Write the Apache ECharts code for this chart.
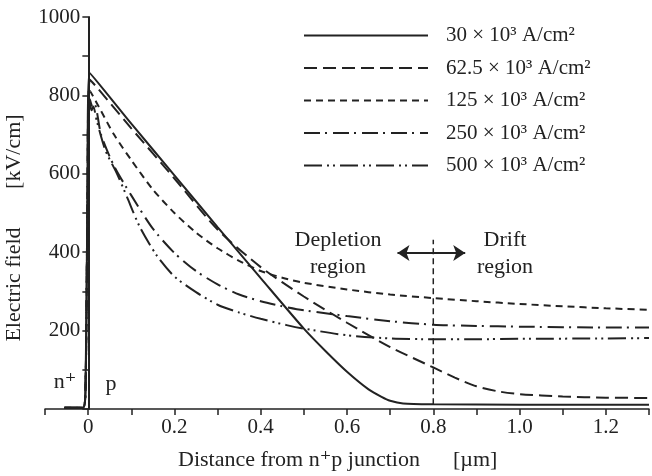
<!DOCTYPE html>
<html>
<head>
<meta charset="utf-8">
<script src="https://cdn.jsdelivr.net/npm/echarts@6/dist/echarts.min.js"></script>
<style>
  html, body { margin: 0; padding: 0; background: #fff; }
  #chart { width: 652px; height: 476px; }
</style>
</head>
<body>
<div id="chart"></div>
<script>
// legend names
const seriesNames = [
    '30 × 10³ A/cm²',
    '62.5 × 10³ A/cm²',
    '125 × 10³ A/cm²',
    '250 × 10³ A/cm²',
    '500 × 10³ A/cm²'
];

// [distance um, field kV/cm]
const j30 = [[-0.055,3],[-0.012,3],[-0.006,60],[-0.002,500],[0.003,858],[0.1,728],[0.2,596],[0.3,464],
    [0.4,334],[0.5,205],[0.55,148],[0.6,95],[0.65,50],[0.68,31],[0.7,21],[0.73,14],[0.8,12],[1.0,11],[1.3,11]];
const j62 = [[-0.055,3],[-0.012,3],[-0.006,60],[-0.002,480],[0.004,840],[0.1,716],[0.2,588],[0.3,458],
    [0.4,362],[0.5,287],[0.6,220],[0.7,158],[0.8,106],[0.85,80],[0.9,58],[0.95,45],[1.0,38],[1.1,32],[1.2,29],[1.3,28]];
const j125 = [[-0.055,3],[-0.012,3],[-0.006,60],[-0.002,470],[0.004,812],[0.03,760],[0.06,700],[0.1,635],
    [0.15,560],[0.2,500],[0.25,450],[0.3,410],[0.35,378],[0.4,352],[0.45,335],[0.5,322],[0.6,305],
    [0.7,292],[0.8,283],[0.9,275],[1.0,268],[1.1,262],[1.2,257],[1.3,253]];
const j250 = [[-0.055,3],[-0.012,3],[-0.006,60],[-0.002,460],[0.004,790],[0.01,772],[0.015,778],[0.03,700],
    [0.06,620],[0.1,545],[0.15,460],[0.2,398],[0.25,352],[0.3,318],[0.35,292],[0.4,275],[0.45,262],
    [0.5,252],[0.6,237],[0.7,224],[0.8,215],[0.9,212],[1.0,210],[1.2,208],[1.3,208]];
const j500 = [[-0.055,3],[-0.012,3],[-0.006,60],[-0.002,450],[0.003,780],[0.008,762],[0.012,772],[0.02,735],
    [0.04,660],[0.067,600],[0.09,541],[0.12,464],[0.16,390],[0.2,338],[0.25,298],[0.3,266],[0.35,246],
    [0.4,230],[0.46,214],[0.5,205],[0.6,188],[0.7,180],[0.8,178],[0.9,178],[1.0,179],[1.2,180],[1.3,181]];

// depletion / drift boundary and the double arrow
const boundaryLine = [[0.8, 12], [0.8, 432]];
const arrowLine = [[0.717, 398], [0.874, 398]];

const dashes = ['solid', [13, 6], [7, 5], [16, 5, 2, 6], [18, 5, 2, 4, 2, 5]];
const seriesData = [j30, j62, j125, j250, j500];

const serif = '"Liberation Serif", "DejaVu Serif", serif';
const ink = '#222';
const font = '22px ' + serif;

let myChart = echarts.init(document.getElementById('chart'));

let series = seriesData.map((d, i) => {
    return {
        name: seriesNames[i],
        type: 'line',
        data: d,
        symbol: 'none',
        smooth: 0.25,
        color: ink,
        lineStyle: {color: ink, width: 2, type: dashes[i]},
        z: 3
    };
});

series.push({
    type: 'line',
    data: boundaryLine,
    symbol: 'none',
    silent: true,
    lineStyle: {color: ink, width: 1.5, type: [6, 4]}
});

series.push({
    type: 'lines',
    coordinateSystem: 'cartesian2d',
    polyline: false,
    symbol: ['arrow', 'arrow'],
    symbolSize: 12,
    silent: true,
    lineStyle: {color: ink, width: 2, opacity: 1},
    data: [{coords: arrowLine}]
});

// y axis sits on x = 0, which is 0.1/1.4 of the grid width from the left
const gridLeft = 45, gridRight = 0;
const yOffset = -(652 - gridLeft - gridRight) * 0.1 / 1.4;

let option = {
    backgroundColor: '#fff',
    animation: false,
    grid: {left: gridLeft, right: gridRight, top: 17, bottom: 67},
    legend: {
        orient: 'vertical',
        left: 298,
        top: 20,
        itemWidth: 124,
        itemHeight: 20,
        itemGap: 11.5,
        data: seriesNames,
        itemStyle: {opacity: 0},
        textStyle: {fontFamily: serif, fontSize: 21, color: ink, lineHeight: 20, padding: [0, 0, 0, 13]}
    },
    xAxis: {
        type: 'value',
        min: -0.1,
        max: 1.3,
        interval: 0.1,
        splitLine: {show: false},
        axisLine: {lineStyle: {color: ink, width: 1.5}},
        axisTick: {length: 6, lineStyle: {color: ink, width: 1.5}},
        axisLabel: {
            fontFamily: serif, fontSize: 21, color: ink, margin: 8,
            formatter: v => {
                let k = Math.round(v * 10);
                if (k === 0) return '0';
                if (k > 0 && k % 2 === 0) return (k / 10).toFixed(1);
                return '';
            }
        }
    },
    yAxis: {
        type: 'value',
        min: 0,
        max: 1000,
        interval: 100,
        offset: yOffset,
        splitLine: {show: false},
        axisLine: {onZero: false, lineStyle: {color: ink, width: 2}},
        axisTick: {length: 6, lineStyle: {color: ink, width: 1.5}},
        axisLabel: {
            fontFamily: serif, fontSize: 21, color: ink, margin: 8,
            formatter: v => (v > 0 && v % 200 === 0) ? String(v) : ''
        }
    },
    graphic: [
        {type: 'text', x: 14, y: 228, rotation: Math.PI / 2,
            style: {text: 'Electric field       [kV/cm]', font: font, fill: ink,
                align: 'center', verticalAlign: 'middle'}},
        {type: 'text', x: 178, y: 460,
            style: {text: 'Distance from n⁺p junction      [µm]', font: font, fill: ink,
                align: 'left', verticalAlign: 'middle'}},
        {type: 'text', x: 338, y: 240,
            style: {text: 'Depletion', font: font, fill: ink, align: 'center', verticalAlign: 'middle'}},
        {type: 'text', x: 338, y: 267,
            style: {text: 'region', font: font, fill: ink, align: 'center', verticalAlign: 'middle'}},
        {type: 'text', x: 505, y: 240,
            style: {text: 'Drift', font: font, fill: ink, align: 'center', verticalAlign: 'middle'}},
        {type: 'text', x: 505, y: 267,
            style: {text: 'region', font: font, fill: ink, align: 'center', verticalAlign: 'middle'}},
        {type: 'text', x: 65, y: 382,
            style: {text: 'n⁺', font: font, fill: ink, align: 'center', verticalAlign: 'middle'}},
        {type: 'text', x: 111, y: 384,
            style: {text: 'p', font: font, fill: ink, align: 'center', verticalAlign: 'middle'}}
    ],
    series: series
};

myChart.setOption(option);
</script>
</body>
</html>
